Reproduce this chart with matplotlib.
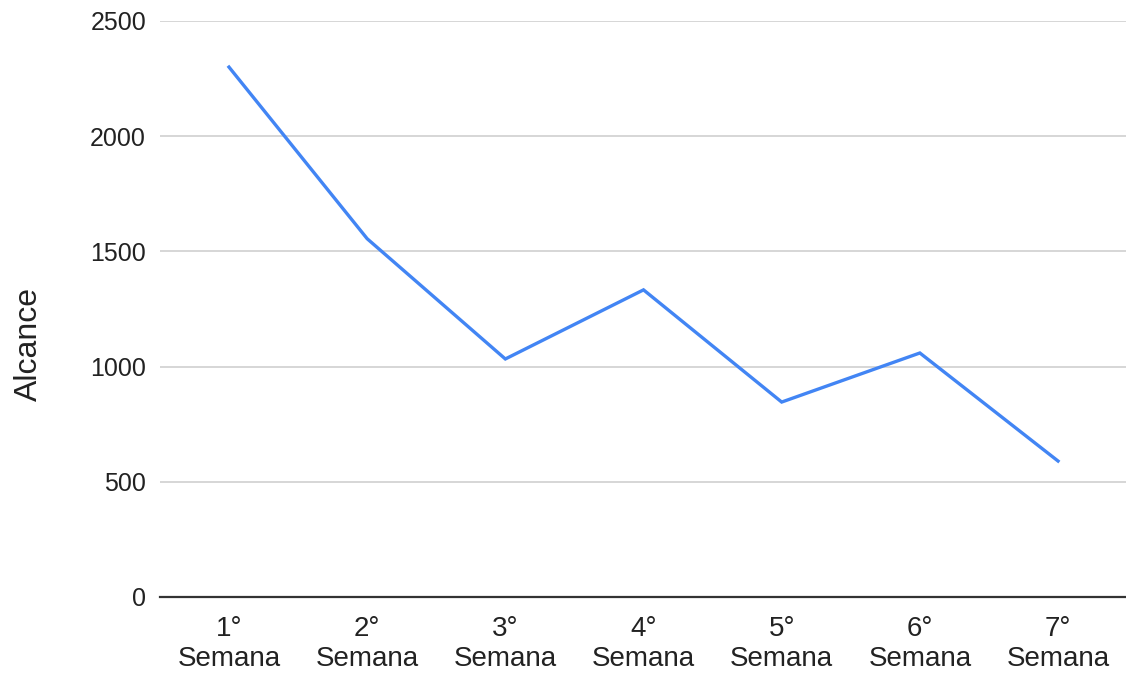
import numpy as np
import matplotlib.pyplot as plt

# Alcance semanal
semanas = ['1°\nSemana', '2°\nSemana', '3°\nSemana', '4°\nSemana',
           '5°\nSemana', '6°\nSemana', '7°\nSemana']
alcance = [2300, 1555, 1033, 1333, 846, 1059, 590]
y_ticks = [0, 500, 1000, 1500, 2000, 2500]

plt.rcParams['font.family'] = ['Liberation Sans', 'DejaVu Sans']

fig = plt.figure(figsize=(11.26, 6.75), dpi=100)
ax = fig.add_axes([0.142, 0.1156, 0.859, 0.8533])

x = np.arange(len(semanas))
ax.plot(x, alcance, color='#4285F4', linewidth=2.4, solid_joinstyle='miter')

ax.set_xlim(-0.5, len(semanas) - 0.5)
ax.set_ylim(0, 2500)
ax.set_yticks(y_ticks)
ax.set_xticks(x)
ax.set_xticklabels(semanas, fontsize=20, color='#222222', linespacing=1.2)
ax.tick_params(axis='y', labelsize=18, colors='#222222', length=0, pad=10)
ax.tick_params(axis='x', length=0, pad=14)

ax.grid(axis='y', color='#cccccc', linewidth=1.1)
ax.set_axisbelow(True)
for s in ['top', 'right', 'left']:
    ax.spines[s].set_visible(False)
ax.spines['bottom'].set_color('#333333')
ax.spines['bottom'].set_linewidth(1.6)

ax.set_ylabel('Alcance', fontsize=23, color='#222222')
ax.yaxis.set_label_coords(-0.12, 0.44)

fig.savefig('out.png', dpi=100)
